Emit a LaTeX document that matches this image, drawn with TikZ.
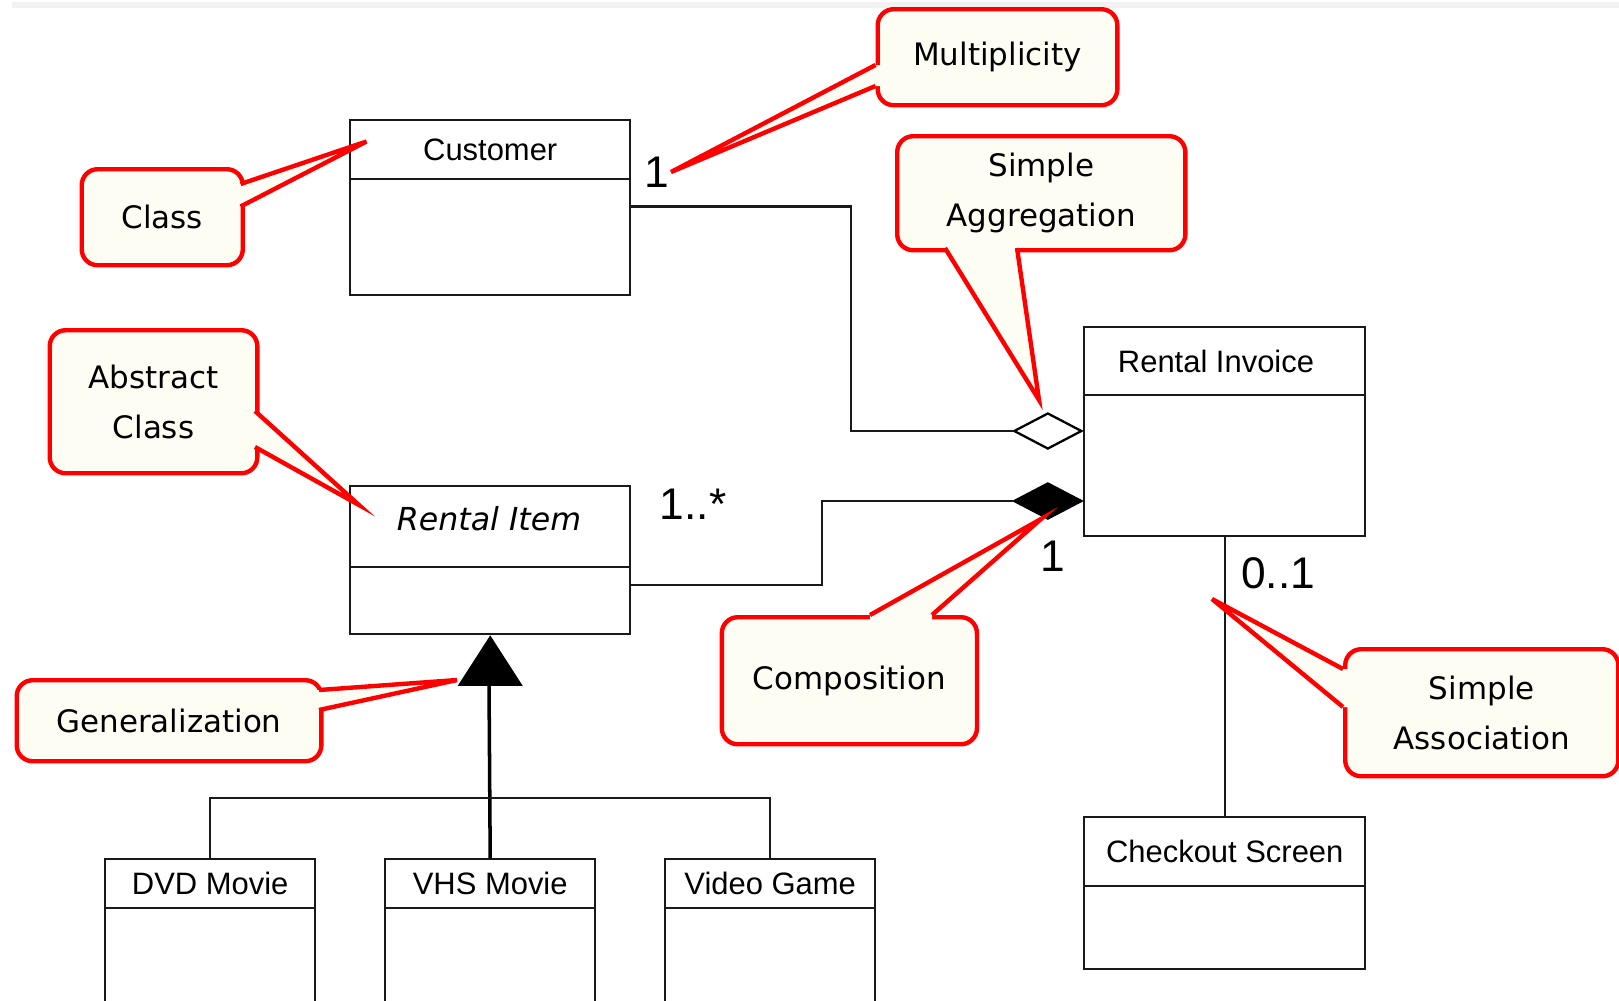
\documentclass[tikz,border=0pt]{standalone}
\usepackage{fontspec}
\setmainfont{Liberation Sans}
\newfontfamily\calfont{DejaVu Sans}
\usetikzlibrary{shapes.geometric}
\definecolor{cfill}{RGB}{253,253,244}
\definecolor{cred}{RGB}{255,0,0}
\newcommand{\ptr}[5]{%
  \fill[cfill] #1 -- #2 -- #3 -- ($#3+#4$) -- ($#1+#4$) -- cycle;
  \draw[cred, line width=1.25pt, line join=miter] #1 -- #2 -- #3;
  \node[#5] {};}
\usetikzlibrary{calc}
\begin{document}
\begin{tikzpicture}[x=0.01cm,y=-0.01cm,
  umlbox/.style={draw=black!90, line width=0.65pt, inner sep=0pt, anchor=north west,
    font=\fontsize{8.8pt}{10pt}\selectfont},
  umltext/.style={inner sep=0pt, font=\fontsize{8.8pt}{10pt}\selectfont},
  conn/.style={draw=black!90, line width=0.65pt},
  genline/.style={draw=black, line width=1pt},
  mult/.style={font=\fontsize{12.6pt}{14pt}\selectfont, inner sep=0pt},
  callbox/.style={draw=cred, line width=1.25pt, fill=cfill, rounded corners=0.16cm,
    anchor=north west, inner sep=0pt, align=center,
    font=\calfont\fontsize{8.8pt}{14.2pt}\selectfont},
  dmd/.style={diamond, draw=black, line width=0.65pt, minimum width=0.68cm,
    minimum height=0.36cm, inner sep=0pt, anchor=east},
  tipmark/.style={coordinate}
]
\useasboundingbox (0,0) rectangle (1619,1000);
\fill[white] (0,0) rectangle (1619,1000);
\fill[black!5] (12,2) rectangle (1619,8);

% ---- UML classes ----
\node[umlbox, minimum width=2.80cm, minimum height=0.59cm] (custh) at (349,119) {Customer};
\node[umlbox, minimum width=2.80cm, minimum height=1.16cm] (custb) at (349,178) {};

\node[umlbox, minimum width=2.80cm, minimum height=0.81cm] (itemh) at (349,485) {};
\node[font=\calfont\itshape\fontsize{9pt}{10pt}\selectfont, inner sep=0pt] (itemt) at (489,519) {Rental Item};
\node[umlbox, minimum width=2.80cm, minimum height=0.67cm] (itemb) at (349,566) {};

\node[umlbox, minimum width=2.81cm, minimum height=0.68cm] (invh) at (1083,326) {};
\node[umltext] (invt) at (1216,361) {Rental Invoice};
\node[umlbox, minimum width=2.81cm, minimum height=1.41cm] (invb) at (1083,394) {};

\node[umlbox, minimum width=2.81cm, minimum height=0.69cm] (chkh) at (1083,816) {Checkout Screen};
\node[umlbox, minimum width=2.81cm, minimum height=0.83cm] (chkb) at (1083,885) {};

\node[umlbox, minimum width=2.10cm, minimum height=0.485cm] (dvdh) at (104,858) {DVD Movie};
\node[umlbox, minimum width=2.10cm, minimum height=1.10cm] (dvdb) at (104,906.5) {};
\node[umlbox, minimum width=2.10cm, minimum height=0.485cm] (vhsh) at (384,858) {VHS Movie};
\node[umlbox, minimum width=2.10cm, minimum height=1.10cm] (vhsb) at (384,906.5) {};
\node[umlbox, minimum width=2.10cm, minimum height=0.485cm] (vgh) at (664,858) {Video Game};
\node[umlbox, minimum width=2.10cm, minimum height=1.10cm] (vgb) at (664,906.5) {};

% ---- connectors ----
\node[dmd, fill=white] (agg) at (1083,431) {};
\coordinate (aggbend) at (851,431);
\draw[conn] (custb.north east) ++(0,28.5) -| (aggbend) -- (agg.west);

\node[dmd, fill=black] (comp) at (1083,501) {};
\coordinate (compbend) at (822,501);
\draw[conn] (itemb.north east) ++(0,19) -| (compbend) -- (comp.west);

\coordinate (genbase) at (489,683.5);
\fill[black] (itemb.south) -- ++(-32.5,50.5) -- ++(65,0) -- cycle;
\draw[genline] (genbase) -- (vhsh.north);
\draw[conn] (dvdh.north) -- ++(0,-60) -| (vgh.north);

\draw[conn] (invb.south) -- (chkh.north);

% ---- multiplicities ----
\node[mult] (m1) at (657,172) {1};
\node[mult] (m2) at (693,504) {1..*};
\node[mult] (m3) at (1053,556) {1};
\node[mult] (m4) at (1278,573) {0..1};

% ---- callouts ----
\node[callbox, minimum width=1.61cm, minimum height=0.96cm] (cClass) at (79.5,167) {Class};
\ptr{(240.6,184)}{(366.5,141.5)}{(240.6,206.5)}{(-8,0)}{tipmark, at={(366.5,141.5)}}

\node[callbox, minimum width=2.395cm, minimum height=0.96cm] (cMult) at (875.5,7) {Multiplicity};
\ptr{(875.5,65)}{(671,172)}{(875.5,86)}{(8,0)}{tipmark, at={(671,172)}}

\node[callbox, minimum width=2.88cm, minimum height=1.14cm] (cAgg) at (895,134) {Simple\\Aggregation};
\ptr{(945,248)}{(1039,400)}{(1017,248)}{(0,-8)}{tipmark, at={(1039,400)}}

\node[callbox, minimum width=2.075cm, minimum height=1.43cm] (cAbs) at (47.5,328) {Abstract\\Class};
\ptr{(255,411)}{(359,505)}{(255,447)}{(-8,0)}{tipmark, at={(359,505)}}

\node[callbox, minimum width=3.045cm, minimum height=0.81cm] (cGen) at (14.5,678) {Generalization};
\ptr{(319,690)}{(457,680)}{(319,710)}{(-8,0)}{tipmark, at={(457,680)}}

\node[callbox, minimum width=2.55cm, minimum height=1.27cm] (cComp) at (719.6,615) {Composition};
\ptr{(870,615)}{(1041,519)}{(932,615)}{(0,8)}{tipmark, at={(1041,519)}}

\node[callbox, minimum width=2.73cm, minimum height=1.27cm] (cAssoc) at (1343,647) {Simple\\Association};
\ptr{(1343,669)}{(1212,599)}{(1343,707)}{(8,0)}{tipmark, at={(1212,599)}}
\end{tikzpicture}
\end{document}
